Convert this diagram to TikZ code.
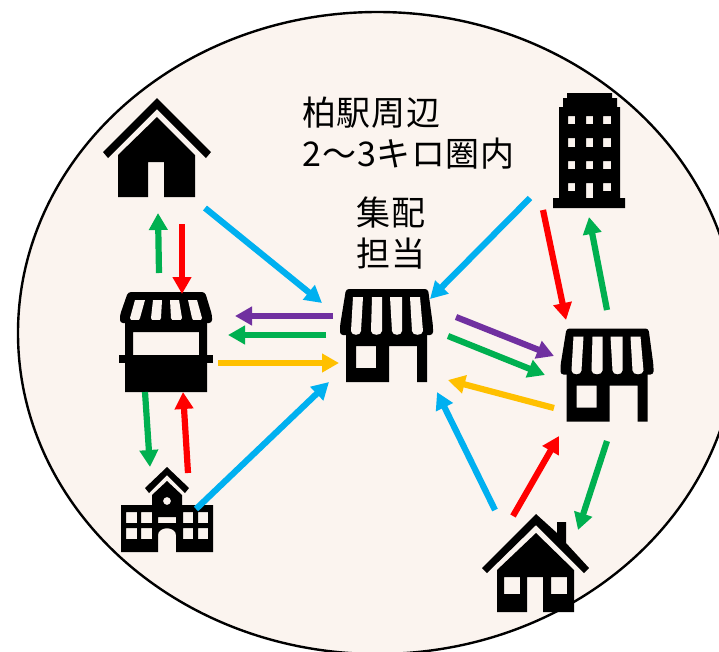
\documentclass[tikz,border=0pt]{standalone}
\usepackage{fontspec}
\newfontfamily\jpfont[LetterSpace=2]{Noto Sans CJK JP}
\usetikzlibrary{arrows.meta}
\definecolor{bgc}{HTML}{FBF4EF}
\definecolor{cblue}{HTML}{00B0F0}
\definecolor{cgreen}{HTML}{00B050}
\definecolor{cred}{HTML}{FF0000}
\definecolor{cpurple}{HTML}{7030A0}
\definecolor{cyellow}{HTML}{FFC000}
\newcommand{\awnstripe}[6]{\fill[bgc] (#1,#5) -- (#2,#5) -- (#4,#6-4) .. controls (#4,#6+1) and (#3,#6+1) .. (#3,#6-4) -- cycle;}
\tikzset{
  flow/.style={line width=6.2pt,-{Triangle[length=17pt,width=18pt]}},
  label/.style={font=\jpfont\fontsize{34}{41}\selectfont,inner sep=0pt,align=left},
  icon/.style={fill=black,even odd rule},
  storeicon/.pic={
    \path[icon,rounded corners=3pt] (346,289) -- (428,289) -- (433,326) -- (433,335) -- (340,335) -- (340,326) -- cycle;
    \path[icon] (346,330) -- (427,330) -- (427,382) -- (417,382) -- (417,346) -- (389,346) -- (389,382) -- (346,382) -- cycle (356,346) rectangle (376,368);
    \awnstripe{353}{363}{351}{361}{297}{335}
    \awnstripe{372}{382}{371}{382}{297}{335}
    \awnstripe{390}{402}{392}{402}{297}{335}
    \awnstripe{410}{420}{412}{423}{297}{335}
  }
}
\begin{document}
\begin{tikzpicture}[x=1pt,y=-1pt]
\clip (0,0) rectangle (719,651);
\useasboundingbox (0,0) rectangle (719,651);
\fill[white] (0,0) rectangle (719,651);
\draw[fill=bgc,line width=2.4pt] (377.5,333) ellipse [x radius=359.5,y radius=321];

% House, upper left
\path[icon] (157,98) -- (211,152) -- (206,158) -- (157,109) -- (108,158) -- (103,152) -- cycle;
\path[icon] (157,117) -- (195,155) -- (195,197) -- (164,197) -- (164,162) -- (148,162) -- (148,197) -- (118,197) -- (118,155) -- cycle;

% Stall
\path[icon,rounded corners=3pt] (128,292) -- (205,292) -- (212,315) -- (212,323) -- (120,323) -- (120,315) -- cycle;
\awnstripe{135}{145}{130}{140}{300}{322}
\awnstripe{153}{162}{151}{161}{300}{322}
\awnstripe{170}{179}{171}{182}{300}{322}
\awnstripe{188}{197}{192}{202}{300}{322}
\path[icon] (125,320) rectangle (207,392) (133,332) rectangle (199,355);
\fill (119,355) rectangle (213,363);

% School
\path[icon] (121,505) -- (152,505) -- (152,495) -- (167,481) -- (182,495) -- (182,505) -- (213,505) -- (213,552) -- (176,552) -- (176,535) .. controls (176,526) and (158,526) .. (158,535) -- (158,552) -- (121,552) -- cycle
  (126,512) rectangle (137,523) (141,512) rectangle (152,523) (183,512) rectangle (193,523) (198,512) rectangle (208,523)
  (126,528) rectangle (137,539) (141,528) rectangle (152,539) (183,528) rectangle (193,539) (198,528) rectangle (208,539)
  (158,517) rectangle (176,523)
  (167,501) circle [radius=4];
\path[icon] (167,467) -- (189,488) -- (185,493) -- (167,475) -- (149,493) -- (145,488) -- cycle;

% Center and right stores
\pic at (0,0) {storeicon};
\pic at (220.5,39.5) {storeicon};

% Building
\path[icon] (567,93) -- (612,93) -- (612,98) -- (617,98) -- (617,107) -- (620,107) -- (620,198) -- (625,198) -- (625,208) -- (553,208) -- (553,198) -- (559,198) -- (559,107) -- (563,107) -- (563,98) -- (567,98) -- cycle
  (568,116) rectangle (575,124) (586,116) rectangle (593,124) (603,116) rectangle (611,124)
  (568,138) rectangle (575,147) (586,138) rectangle (593,147) (603,138) rectangle (611,147)
  (568,161) rectangle (575,169) (586,161) rectangle (593,169) (603,161) rectangle (611,169)
  (568,183) rectangle (575,191) (586,183) rectangle (593,198) (603,183) rectangle (611,191);

% House, lower right
\path[icon] (557,522) -- (566,522) -- (566,543) -- (589,568) -- (584,573) -- (536,525) -- (487,573) -- (482,568) -- (536,514) -- (557,533) -- cycle;
\path[icon] (536,533) -- (574,570) -- (574,612) -- (543,612) -- (543,577) -- (527,577) -- (527,612) -- (497,612) -- (497,570) -- cycle
  (504,577) rectangle (520,594) (551,577) rectangle (567,594);

% Texts
\node[label,anchor=west] (area) at (302,133) {柏駅周辺\\2\kern1pt～\kern1pt3キロ圏内};
\node[label,anchor=center,align=center] (hub) at (391,233) {集配\\担当};

% Connector ends
\coordinate (a1s) at (205,208); \coordinate (a1e) at (322,303);
\coordinate (a2s) at (159,273); \coordinate (a2e) at (158,213);
\coordinate (a3s) at (182,224); \coordinate (a3e) at (182,294);
\coordinate (a4s) at (333,316); \coordinate (a4e) at (235,316);
\coordinate (a5s) at (326,335); \coordinate (a5e) at (228,335);
\coordinate (a6s) at (218,363); \coordinate (a6e) at (339,363);
\coordinate (a7s) at (145,392); \coordinate (a7e) at (150,467);
\coordinate (a8s) at (188,473); \coordinate (a8e) at (183,392);
\coordinate (a9s) at (196,509); \coordinate (a9e) at (329,382);
\coordinate (b1s) at (530,198); \coordinate (b1e) at (430,299);
\coordinate (b2s) at (543,210); \coordinate (b2e) at (566,320);
\coordinate (b3s) at (607,310); \coordinate (b3e) at (589,217);
\coordinate (b4s) at (456,317); \coordinate (b4e) at (554,356);
\coordinate (b5s) at (448,336); \coordinate (b5e) at (545,375);
\coordinate (b6s) at (554,408); \coordinate (b6e) at (448,380);
\coordinate (b7s) at (495,510); \coordinate (b7e) at (437,392);
\coordinate (b8s) at (513,516); \coordinate (b8e) at (559,436);
\coordinate (b9s) at (607,441); \coordinate (b9e) at (578,530);

% Connectors
\draw[flow,cblue] (a1s) -- (a1e);
\draw[flow,cgreen] (a2s) -- (a2e);
\draw[flow,cred] (a3s) -- (a3e);
\draw[flow,cpurple] (a4s) -- (a4e);
\draw[flow,cgreen] (a5s) -- (a5e);
\draw[flow,cyellow] (a6s) -- (a6e);
\draw[flow,cgreen] (a7s) -- (a7e);
\draw[flow,cred] (a8s) -- (a8e);
\draw[flow,cblue] (a9s) -- (a9e);
\draw[flow,cblue] (b1s) -- (b1e);
\draw[flow,cred] (b2s) -- (b2e);
\draw[flow,cgreen] (b3s) -- (b3e);
\draw[flow,cpurple] (b4s) -- (b4e);
\draw[flow,cgreen] (b5s) -- (b5e);
\draw[flow,cyellow] (b6s) -- (b6e);
\draw[flow,cblue] (b7s) -- (b7e);
\draw[flow,cred] (b8s) -- (b8e);
\draw[flow,cgreen] (b9s) -- (b9e);
\end{tikzpicture}
\end{document}
